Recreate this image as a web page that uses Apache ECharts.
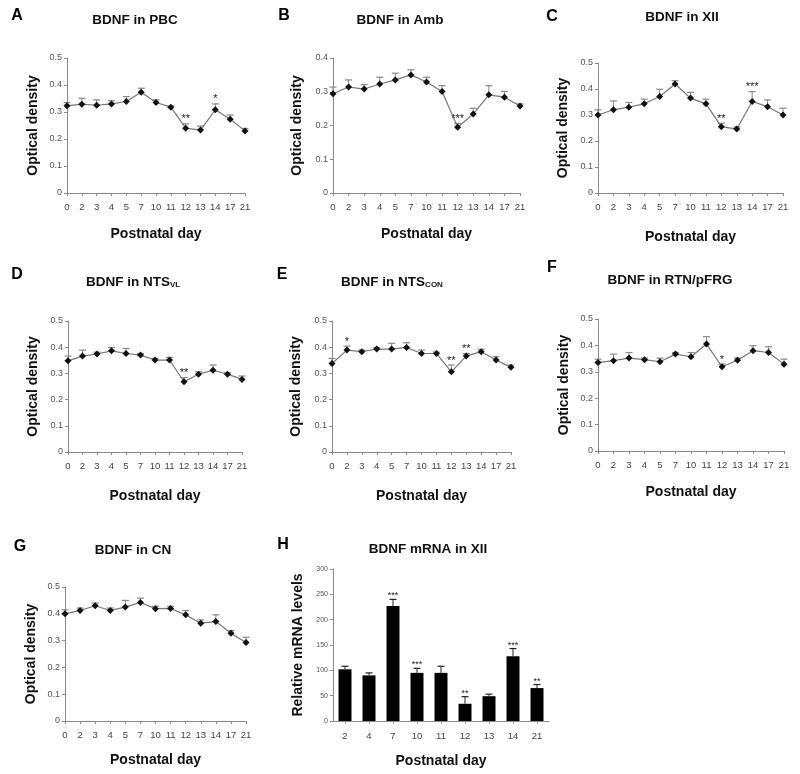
<!DOCTYPE html>
<html><head><meta charset="utf-8">
<script src="https://cdn.jsdelivr.net/npm/echarts@6/dist/echarts.min.js"></script>
<style>html,body{margin:0;padding:0;background:#fff}#c{width:800px;height:774px}</style>
</head><body><div id="c"></div>
<script>
// ---- data ----
var days = ['0','2','3','4','5','7','10','11','12','13','14','17','21'];

var pbcMean = [0.323,0.329,0.325,0.330,0.339,0.373,0.335,0.318,0.240,0.233,0.308,0.273,0.230];
var pbcSem  = [0.012,0.022,0.020,0.012,0.018,0.015,0.010,0.004,0.016,0.015,0.022,0.016,0.009];
var pbcStars = ['','','','','','','','','**','','*','',''];

var ambMean = [0.294,0.314,0.308,0.323,0.335,0.350,0.329,0.301,0.195,0.234,0.291,0.284,0.258];
var ambSem  = [0.020,0.021,0.013,0.020,0.020,0.015,0.014,0.017,0.011,0.017,0.027,0.017,0.006];
var ambStars = ['','','','','','','','','***','','','',''];

var xiiMean = [0.300,0.320,0.330,0.343,0.371,0.419,0.365,0.343,0.255,0.246,0.352,0.332,0.300];
var xiiSem  = [0.020,0.034,0.018,0.018,0.028,0.013,0.022,0.018,0.013,0.008,0.038,0.026,0.026];
var xiiStars = ['','','','','','','','','**','','***','',''];

var vlMean = [0.348,0.366,0.374,0.386,0.376,0.370,0.351,0.351,0.268,0.297,0.312,0.297,0.277];
var vlSem  = [0.018,0.023,0.007,0.013,0.019,0.006,0.006,0.010,0.016,0.009,0.020,0.005,0.013];
var vlStars = ['','','','','','','','','**','','','',''];

var conMean = [0.338,0.389,0.383,0.393,0.393,0.399,0.376,0.376,0.306,0.366,0.383,0.351,0.323];
var conSem  = [0.019,0.015,0.006,0.006,0.022,0.018,0.013,0.005,0.026,0.010,0.009,0.013,0.009];
var conStars = ['','*','','','','','','','**','**','','',''];

var rtnMean = [0.335,0.342,0.352,0.346,0.338,0.367,0.357,0.405,0.319,0.344,0.380,0.373,0.329];
var rtnSem  = [0.013,0.025,0.021,0.006,0.014,0.006,0.016,0.028,0.010,0.008,0.019,0.022,0.019];
var rtnStars = ['','','','','','','','','*','','','',''];

var cnMean = [0.400,0.4125,0.430,0.4125,0.425,0.4425,0.419,0.420,0.396,0.365,0.371,0.3275,0.2925];
var cnSem  = [0.015,0.009,0.010,0.009,0.025,0.016,0.009,0.008,0.016,0.012,0.025,0.010,0.020];
var cnStars = ['','','','','','','','','','','','',''];

var mrnaDays = ['2','4','7','10','11','12','13','14','21'];
var mrnaMean = [102,90,227,95,95,34,49,128,65];
var mrnaSem  = [6,5,13,9,13,14,4,15,7];
var mrnaStars = ['','','***','***','','**','','***','**'];

var letters = ['A','B','C','D','E','F','G','H'];
var titles = ['{t|BDNF in PBC}','{t|BDNF in Amb}','{t|BDNF in XII}','{t|BDNF in NTS}{s|VL}','{t|BDNF in NTS}{s|CON}','{t|BDNF in RTN/pFRG}','{t|BDNF in CN}','{t|BDNF mRNA in XII}'];
var yTitles = ['Optical density','Optical density','Optical density','Optical density','Optical density','Optical density','Optical density','Relative mRNA levels'];
var xTitle = 'Postnatal day';

// ---- layout ----
var FONT = '"Liberation Sans", Arial, sans-serif';
var panels = [
  {g:{left:67,top:58,width:178,height:135}, mean:pbcMean, sem:pbcSem, stars:pbcStars, max:0.5, lx:17, ly:16, tx:135, ty:20, xg:34, yg:27},
  {g:{left:333,top:58,width:187,height:135}, mean:ambMean, sem:ambSem, stars:ambStars, max:0.4, lx:284, ly:16, tx:400, ty:20, xg:34, yg:29},
  {g:{left:598,top:63,width:185,height:130}, mean:xiiMean, sem:xiiSem, stars:xiiStars, max:0.5, lx:552, ly:17, tx:682, ty:17, xg:37, yg:28},
  {g:{left:68,top:321,width:174,height:131}, mean:vlMean, sem:vlSem, stars:vlStars, max:0.5, lx:17, ly:275, tx:133, ty:282, xg:37, yg:28},
  {g:{left:332,top:321,width:179,height:131}, mean:conMean, sem:conSem, stars:conStars, max:0.5, lx:282, ly:275, tx:392, ty:282, xg:37, yg:29},
  {g:{left:598,top:319,width:186,height:132}, mean:rtnMean, sem:rtnSem, stars:rtnStars, max:0.5, lx:552, ly:268, tx:670, ty:280, xg:34, yg:27},
  {g:{left:65,top:587,width:181,height:134}, mean:cnMean, sem:cnSem, stars:cnStars, max:0.5, lx:20, ly:547, tx:133, ty:550, xg:32, yg:27},
  {g:{left:333,top:569,width:216,height:152}, mean:mrnaMean, sem:mrnaSem, stars:mrnaStars, max:300, lx:283, ly:545, tx:428, ty:549, xg:33, yg:28, bar:true}
];

var grid=[], xAxis=[], yAxis=[], series=[], graphic=[];
panels.forEach(function(p, i){
  grid.push(Object.assign({containLabel:false}, p.g));
  xAxis.push({
    type:'category', gridIndex:i, data: p.bar ? mrnaDays : days, boundaryGap: !!p.bar,
    axisLine:{lineStyle:{color:'#8a8a8a', width:1}},
    axisTick:{show:true, length:3, lineStyle:{color:'#8a8a8a'}, alignWithLabel:true, interval:0},
    axisLabel:{interval:0, fontSize:9.5, color:'#444', fontFamily:FONT, margin: p.bar ? 10 : 9},
    name:xTitle, nameLocation:'middle', nameGap:p.xg,
    nameTextStyle:{fontSize:14, fontWeight:'bold', color:'#111', fontFamily:FONT}
  });
  yAxis.push({
    type:'value', gridIndex:i, min:0, max:p.max, interval: p.bar ? 50 : 0.1,
    axisLine:{show:true, lineStyle:{color:'#8a8a8a', width:1}},
    axisTick:{show:true, length:3, lineStyle:{color:'#8a8a8a'}},
    splitLine:{show:false},
    axisLabel:{fontSize: p.bar ? 7 : 9, color:'#555', fontFamily:FONT, margin:5},
    name:yTitles[i], nameLocation:'middle', nameGap:p.yg,
    nameTextStyle:{fontSize: 14, fontWeight:'bold', color:'#111', fontFamily:FONT}
  });
  if (p.bar) {
    series.push({type:'bar', xAxisIndex:i, yAxisIndex:i, data:p.mean, barWidth:13,
      itemStyle:{color:'#000'}, z:2});
  }
  var stars = p.stars, isBar = !!p.bar;
  series.push({
    type:'custom', xAxisIndex:i, yAxisIndex:i, z:isBar?3:1,
    data: p.mean.map(function(m, k){ return [k, m, p.sem[k]]; }),
    renderItem: function(params, api){
      var x = api.value(0), m = api.value(1), s = api.value(2);
      var p0 = api.coord([x, m]), p1 = api.coord([x, m + s]);
      var col = isBar ? '#222' : '#888';
      var ch = [
        {type:'line', shape:{x1:p0[0], y1:p0[1], x2:p1[0], y2:p1[1]}, style:{stroke:col, lineWidth:1}},
        {type:'line', shape:{x1:p1[0]-3.5, y1:p1[1], x2:p1[0]+3.5, y2:p1[1]}, style:{stroke:col, lineWidth:1.2}}
      ];
      var st = stars[params.dataIndex];
      if (st) ch.push({type:'text', style:{text:st, x:p1[0], y:p1[1]+1, align:'center', verticalAlign:'bottom',
        fontSize: isBar ? 9 : 11, fontFamily:FONT, fill:'#222'}});
      return {type:'group', children:ch};
    }
  });
  if (!p.bar) {
    series.push({type:'line', xAxisIndex:i, yAxisIndex:i, data:p.mean, symbol:'diamond', symbolSize:7,
      itemStyle:{color:'#111'}, lineStyle:{color:'#777', width:1.2}, z:2, animation:false});
  }
  graphic.push({type:'text', x:p.lx, y:p.ly, style:{text:letters[i], align:'center', verticalAlign:'middle',
    font:'bold 16px ' + FONT, fill:'#000'}});
  graphic.push({type:'text', x:p.tx, y:p.ty, style:{text:titles[i], align:'center', verticalAlign:'middle',
    rich:{t:{fontSize:13.5, fontWeight:'bold', fontFamily:FONT, fill:'#111'},
          s:{fontSize:8, fontWeight:'bold', fontFamily:FONT, fill:'#111', padding:[6,0,0,0]}}}});
});

var chart = echarts.init(document.getElementById('c'), null, {renderer:'canvas'});
chart.setOption({animation:false, backgroundColor:'#fff', grid:grid, xAxis:xAxis, yAxis:yAxis, series:series, graphic:graphic});
</script></body></html>
